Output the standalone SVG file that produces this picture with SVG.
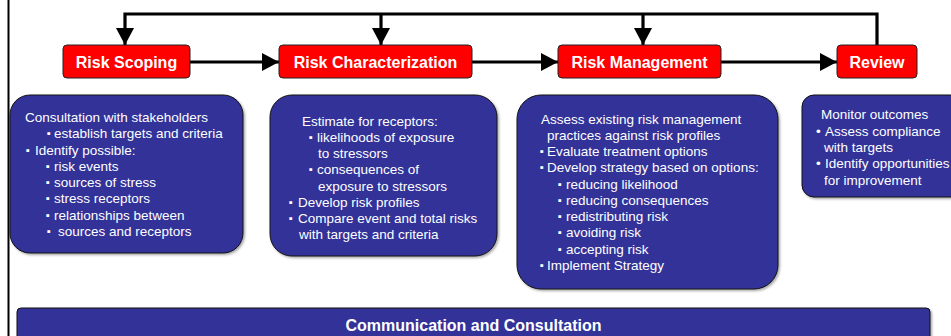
<svg xmlns="http://www.w3.org/2000/svg" width="951" height="336" viewBox="0 0 951 336">
<defs>
<marker id="ah" markerUnits="userSpaceOnUse" markerWidth="18" markerHeight="18" refX="17" refY="9" orient="auto"><path d="M0,0 L17,9 L0,18 z" fill="#000"/></marker>
<filter id="sh" x="-5%" y="-5%" width="110%" height="115%"><feDropShadow dx="1.5" dy="1.5" stdDeviation="0.8" flood-color="#000" flood-opacity="0.35"/></filter>
</defs>
<style>
.step{fill:#ff0000;stroke:#222;stroke-width:1}
.steptxt{font-family:"Liberation Sans",Arial,sans-serif;font-weight:bold;font-size:16px;fill:#fff;text-anchor:middle}
.panel{fill:#333399;stroke:#111;stroke-width:1}
.body{font-family:"Liberation Sans",Arial,sans-serif;font-size:13.5px;fill:#fff}
.bl{font-size:11px}
.conn{stroke:#000;stroke-width:3.2;fill:none}
</style>
<rect width="951" height="336" fill="#fff"/>
<line x1="8.5" y1="0" x2="8.5" y2="336" stroke="#000" stroke-width="2"/>

<g id="connectors">
<path class="conn" d="M877,45 V14 H125 V45" marker-end="url(#ah)"/>
<path class="conn" d="M381,14 V45" marker-end="url(#ah)"/>
<path class="conn" d="M643,14 V45" marker-end="url(#ah)"/>
<path class="conn" d="M190,62 H279" marker-end="url(#ah)"/>
<path class="conn" d="M472,62 H558" marker-end="url(#ah)"/>
<path class="conn" d="M721,62 H837" marker-end="url(#ah)"/>
</g>

<g id="risk-scoping">
<rect class="step" x="63" y="45" width="127" height="33" rx="4"/>
<text class="steptxt" x="126.5" y="67.5">Risk Scoping</text>
</g>
<g id="risk-characterization">
<rect class="step" x="279" y="45" width="193" height="33" rx="4"/>
<text class="steptxt" x="375.5" y="67.5">Risk Characterization</text>
</g>
<g id="risk-management">
<rect class="step" x="558" y="45" width="163" height="33" rx="4"/>
<text class="steptxt" x="639.5" y="67.5">Risk Management</text>
</g>
<g id="review">
<rect class="step" x="837" y="45" width="80" height="33" rx="4"/>
<text class="steptxt" x="877" y="67.5">Review</text>
</g>

<g id="scoping-details">
<rect class="panel" x="10" y="95" width="233" height="158" rx="20" filter="url(#sh)"/>
<text class="body">
<tspan x="25" y="122">Consultation with stakeholders</tspan>
<tspan class="bl" x="47" y="137">▪</tspan><tspan x="54" y="138">establish targets and criteria</tspan>
<tspan class="bl" x="26" y="154">▪</tspan><tspan x="35" y="155">Identify possible:</tspan>
<tspan class="bl" x="46" y="170">▪</tspan><tspan x="54" y="171">risk events</tspan>
<tspan class="bl" x="46" y="186">▪</tspan><tspan x="54" y="187">sources of stress</tspan>
<tspan class="bl" x="46" y="202">▪</tspan><tspan x="54" y="203">stress receptors</tspan>
<tspan class="bl" x="46" y="219">▪</tspan><tspan x="54" y="220">relationships between</tspan>
<tspan class="bl" x="47" y="235">▪</tspan><tspan x="58" y="236">sources and receptors</tspan>
</text>
</g>

<g id="characterization-details">
<rect class="panel" x="270" y="95" width="227" height="161" rx="22" filter="url(#sh)"/>
<text class="body">
<tspan x="302" y="126">Estimate for receptors:</tspan>
<tspan class="bl" x="309" y="141">▪</tspan><tspan x="317" y="142">likelihoods of exposure</tspan>
<tspan x="318" y="158">to stressors</tspan>
<tspan class="bl" x="309" y="173">▪</tspan><tspan x="317" y="174">consequences of</tspan>
<tspan x="318" y="191">exposure to stressors</tspan>
<tspan class="bl" x="289" y="206">▪</tspan><tspan x="298" y="207">Develop risk profiles</tspan>
<tspan class="bl" x="289" y="222">▪</tspan><tspan x="298" y="223">Compare event and total risks</tspan>
<tspan x="299" y="239">with targets and criteria</tspan>
</text>
</g>

<g id="management-details">
<rect class="panel" x="517" y="95" width="261" height="194" rx="24" filter="url(#sh)"/>
<text class="body">
<tspan x="541" y="124">Assess existing risk management</tspan>
<tspan x="547" y="140">practices against risk profiles</tspan>
<tspan class="bl" x="540" y="155">▪</tspan><tspan x="547" y="156">Evaluate treatment options</tspan>
<tspan class="bl" x="540" y="171">▪</tspan><tspan x="547" y="172">Develop strategy based on options:</tspan>
<tspan class="bl" x="558" y="188">▪</tspan><tspan x="566" y="189">reducing likelihood</tspan>
<tspan class="bl" x="558" y="204">▪</tspan><tspan x="566" y="205">reducing consequences</tspan>
<tspan class="bl" x="558" y="220">▪</tspan><tspan x="566" y="221">redistributing risk</tspan>
<tspan class="bl" x="558" y="236">▪</tspan><tspan x="566" y="237">avoiding risk</tspan>
<tspan class="bl" x="558" y="253">▪</tspan><tspan x="566" y="254">accepting risk</tspan>
<tspan class="bl" x="540" y="269">▪</tspan><tspan x="547" y="270">Implement Strategy</tspan>
</text>
</g>

<g id="review-details">
<rect class="panel" x="802" y="95" width="160" height="102" rx="12" filter="url(#sh)"/>
<text class="body">
<tspan x="821" y="119">Monitor outcomes</tspan>
<tspan x="816" y="136">•</tspan><tspan x="825" y="136">Assess compliance</tspan>
<tspan x="824" y="152">with targets</tspan>
<tspan x="816" y="168">•</tspan><tspan x="825" y="168">Identify opportunities</tspan>
<tspan x="824" y="185">for improvement</tspan>
</text>
</g>

<g id="communication">
<rect class="panel" x="17" y="308" width="913" height="40" rx="4" filter="url(#sh)"/>
<text class="steptxt" x="473.5" y="331">Communication and Consultation</text>
</g>
</svg>
